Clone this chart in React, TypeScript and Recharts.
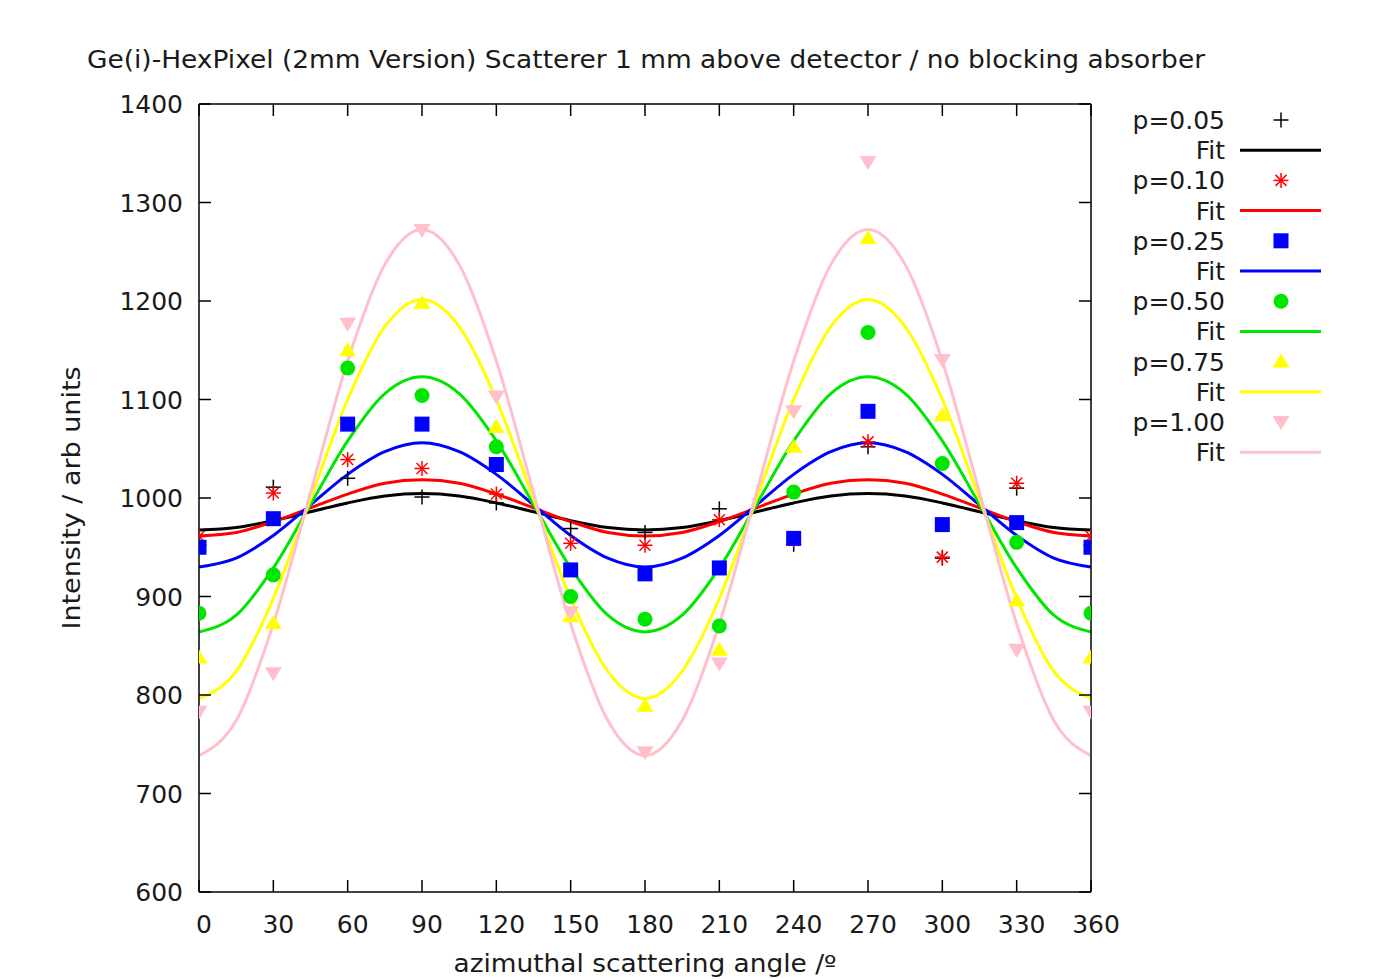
import React from "react";
import { ComposedChart, Line, Scatter, XAxis, YAxis } from "recharts";

const FONT = "'DejaVu Sans', Verdana, sans-serif";
const INK = "#1a1a1a";

// measured angles (deg)
const angles = [0, 30, 60, 90, 120, 150, 180, 210, 240, 270, 300, 330, 360];

// measured intensities per polarisation p
const p005 = [952, 1011, 1020, 1001, 995, 969, 965, 989, 953, 1052, 939, 1010, 952];
const p010 = [961, 1005, 1039, 1030, 1004, 954, 952, 978, 957, 1057, 940, 1015, 961];
const p025 = [950, 979, 1075, 1075, 1034, 927, 923, 929, 959, 1088, 973, 975, 950];
const p050 = [883, 922, 1132, 1104, 1052, 900, 877, 870, 1006, 1168, 1035, 955, 883];
const p075 = [838, 873, 1150, 1198, 1072, 880, 789, 846, 1052, 1264, 1084, 896, 838];
const p100 = [783, 822, 1177, 1272, 1103, 884, 742, 832, 1088, 1341, 1140, 846, 783];

const fitAngles = [
  0, 15, 30, 45, 60, 75, 90, 105, 120, 135, 150, 165, 180,
  195, 210, 225, 240, 255, 270, 285, 300, 315, 330, 345, 360,
];
const fit005 = [
  967.5, 970, 977, 986, 995, 1002, 1004.5, 1002, 995, 986, 977, 970, 967.5,
  970, 977, 986, 995, 1002, 1004.5, 1002, 995, 986, 977, 970, 967.5,
];
const fit010 = [
  961.5, 965, 976, 990, 1004, 1015, 1018.5, 1015, 1004, 990, 976, 965, 961.5,
  965, 976, 990, 1004, 1015, 1018.5, 1015, 1004, 990, 976, 965, 961.5,
];
const fit025 = [
  930, 939, 962, 993, 1024, 1047, 1056, 1047, 1024, 993, 962, 939, 930,
  939, 962, 993, 1024, 1047, 1056, 1047, 1024, 993, 962, 939, 930,
];
const fit050 = [
  864, 881, 929, 993.5, 1058, 1106, 1123, 1106, 1058, 993.5, 929, 881, 864,
  881, 929, 993.5, 1058, 1106, 1123, 1106, 1058, 993.5, 929, 881, 864,
];
const fit075 = [
  796.5, 824, 898, 999, 1100, 1174, 1201.5, 1174, 1100, 999, 898, 824, 796.5,
  824, 898, 999, 1100, 1174, 1201.5, 1174, 1100, 999, 898, 824, 796.5,
];
const fit100 = [
  738.5, 774, 872, 1005.5, 1139, 1237, 1272.5, 1237, 1139, 1005.5, 872, 774, 738.5,
  774, 872, 1005.5, 1139, 1237, 1272.5, 1237, 1139, 1005.5, 872, 774, 738.5,
];

const xTicks = [0, 30, 60, 90, 120, 150, 180, 210, 240, 270, 300, 330, 360];
const yTicks = [600, 700, 800, 900, 1000, 1100, 1200, 1300, 1400];

type MarkerKind = "plus" | "star" | "square" | "circle" | "up" | "down";

interface SeriesDef {
  key: string;
  label: string;
  color: string;
  marker: MarkerKind;
  points: number[];
  fit: number[];
}

const series: SeriesDef[] = [
  { key: "p005", label: "p=0.05", color: "#000000", marker: "plus", points: p005, fit: fit005 },
  { key: "p010", label: "p=0.10", color: "#ff0000", marker: "star", points: p010, fit: fit010 },
  { key: "p025", label: "p=0.25", color: "#0000ff", marker: "square", points: p025, fit: fit025 },
  { key: "p050", label: "p=0.50", color: "#00e600", marker: "circle", points: p050, fit: fit050 },
  { key: "p075", label: "p=0.75", color: "#ffff00", marker: "up", points: p075, fit: fit075 },
  { key: "p100", label: "p=1.00", color: "#ffc0cb", marker: "down", points: p100, fit: fit100 },
];

const fitRows = fitAngles.map((angle, i) => {
  const row: Record<string, number> = { angle };
  series.forEach((s) => {
    row[s.key] = s.fit[i];
  });
  return row;
});

function Marker({ kind, cx, cy, color }: { kind: MarkerKind; cx: number; cy: number; color: string }) {
  const s = 7.5;
  switch (kind) {
    case "plus":
      return (
        <g stroke={color} strokeWidth={1.5}>
          <line x1={cx - s} y1={cy} x2={cx + s} y2={cy} />
          <line x1={cx} y1={cy - s} x2={cx} y2={cy + s} />
        </g>
      );
    case "star":
      return (
        <g stroke={color} strokeWidth={1.5}>
          <line x1={cx - s} y1={cy} x2={cx + s} y2={cy} />
          <line x1={cx} y1={cy - s} x2={cx} y2={cy + s} />
          <line x1={cx - 5.5} y1={cy - 5.5} x2={cx + 5.5} y2={cy + 5.5} />
          <line x1={cx - 5.5} y1={cy + 5.5} x2={cx + 5.5} y2={cy - 5.5} />
        </g>
      );
    case "square":
      return <rect x={cx - 7.5} y={cy - 7.5} width={15} height={15} fill={color} />;
    case "circle":
      return <circle cx={cx} cy={cy} r={7.5} fill={color} />;
    case "up":
      return <polygon points={`${cx},${cy - 8} ${cx + 8.5},${cy + 6} ${cx - 8.5},${cy + 6}`} fill={color} />;
    case "down":
      return <polygon points={`${cx},${cy + 8} ${cx + 8.5},${cy - 6} ${cx - 8.5},${cy - 6}`} fill={color} />;
  }
  return null;
}

function BottomTick({ x, y, payload }: any) {
  return (
    <g>
      <line x1={x} y1={y} x2={x} y2={y - 12} stroke="#000" strokeWidth={1.5} />
      <text x={x + 5} y={y + 41} textAnchor="middle" fontSize={25} fontFamily={FONT} fill={INK}>
        {payload.value}
      </text>
    </g>
  );
}

function TopTick({ x, y }: any) {
  return <line x1={x} y1={y} x2={x} y2={y + 12} stroke="#000" strokeWidth={1.5} />;
}

function LeftTick({ x, y, payload }: any) {
  return (
    <g>
      <line x1={x} y1={y} x2={x + 12} y2={y} stroke="#000" strokeWidth={1.5} />
      <text x={x - 16} y={y + 9} textAnchor="end" fontSize={25} fontFamily={FONT} fill={INK}>
        {payload.value}
      </text>
    </g>
  );
}

function RightTick({ x, y }: any) {
  return <line x1={x} y1={y} x2={x - 12} y2={y} stroke="#000" strokeWidth={1.5} />;
}

function XTitle({ viewBox }: any) {
  const cx = viewBox.x + viewBox.width / 2;
  return (
    <text x={cx} y={972} textAnchor="middle" fontSize={24} fontFamily={FONT} fill={INK}
      textLength={383} lengthAdjust="spacingAndGlyphs">
      azimuthal scattering angle /º
    </text>
  );
}

function YTitle({ viewBox }: any) {
  const cy = viewBox.y + viewBox.height / 2;
  return (
    <text x={80} y={cy} textAnchor="middle" fontSize={24} fontFamily={FONT} fill={INK}
      transform={`rotate(-90, 80, ${cy})`} textLength={263} lengthAdjust="spacingAndGlyphs">
      Intensity / arb units
    </text>
  );
}

function Overlay() {
  const top = 120;
  const step = 30.2;
  return (
    <svg width={1382} height={979} style={{ position: "absolute", left: 0, top: 0, pointerEvents: "none" }}>
      <text
        x={646}
        y={68}
        textAnchor="middle"
        fontSize={24}
        fontFamily={FONT}
        fill={INK}
        textLength={1118}
        lengthAdjust="spacingAndGlyphs">
        Ge(i)-HexPixel (2mm Version) Scatterer 1 mm above detector / no blocking absorber
      </text>
      {series.map((s, i) => {
        const y1 = top + step * 2 * i;
        const y2 = y1 + step;
        return (
          <g key={s.key}>
            <text x={1225} y={y1 + 9} textAnchor="end" fontSize={25} fontFamily={FONT} fill={INK}>
              {s.label}
            </text>
            <Marker kind={s.marker} cx={1281} cy={y1} color={s.color} />
            <text x={1225} y={y2 + 9} textAnchor="end" fontSize={25} fontFamily={FONT} fill={INK}>
              Fit
            </text>
            <line x1={1240} y1={y2} x2={1321} y2={y2} stroke={s.color} strokeWidth={3} />
          </g>
        );
      })}
    </svg>
  );
}

export default function App() {
  return (
    <div style={{ position: "absolute", left: 0, top: 0, width: 1382, height: 979, background: "#fff" }}>
      <ComposedChart
        width={1382}
        height={979}
        data={fitRows}
        margin={{ top: 103, right: 290, bottom: 37, left: 100 }}>
        <XAxis
          dataKey="angle"
          type="number"
          domain={[0, 360]}
          ticks={xTicks}
          interval={0}
          height={50}
          tickSize={0}
          tickMargin={0}
          tick={BottomTick}
          axisLine={{ stroke: "#000", strokeWidth: 1.5 }}
          allowDataOverflow
          label={<XTitle />}
        />
        <XAxis
          xAxisId="top"
          orientation="top"
          dataKey="angle"
          type="number"
          domain={[0, 360]}
          ticks={xTicks}
          interval={0}
          height={1}
          tickSize={0}
          tickMargin={0}
          tick={TopTick}
          axisLine={{ stroke: "#000", strokeWidth: 1.5 }}
          allowDataOverflow
        />
        <YAxis
          type="number"
          domain={[600, 1400]}
          ticks={yTicks}
          interval={0}
          width={99}
          tickSize={0}
          tickMargin={0}
          tick={LeftTick}
          axisLine={{ stroke: "#000", strokeWidth: 1.5 }}
          allowDataOverflow
          label={<YTitle />}
        />
        <YAxis
          yAxisId="right"
          orientation="right"
          type="number"
          domain={[600, 1400]}
          ticks={yTicks}
          interval={0}
          width={1}
          tickSize={0}
          tickMargin={0}
          tick={RightTick}
          axisLine={{ stroke: "#000", strokeWidth: 1.5 }}
          allowDataOverflow
        />

        <Line
          xAxisId="top"
          yAxisId="right"
          dataKey="p005"
          stroke="none"
          dot={false}
          activeDot={false}
          isAnimationActive={false}
        />

        {series.flatMap((s) => [
          <Scatter
            key={`${s.key}-pts`}
            data={angles.map((angle, i) => ({ angle, value: s.points[i] }))}
            dataKey="value"
            isAnimationActive={false}
            shape={(props: any) => <Marker kind={s.marker} cx={props.cx} cy={props.cy} color={s.color} />}
          />,
          <Line
            key={`${s.key}-fit`}
            type="monotone"
            dataKey={s.key}
            stroke={s.color}
            strokeWidth={3}
            dot={false}
            activeDot={false}
            isAnimationActive={false}
          />,
        ])}
      </ComposedChart>
      <Overlay />
    </div>
  );
}
